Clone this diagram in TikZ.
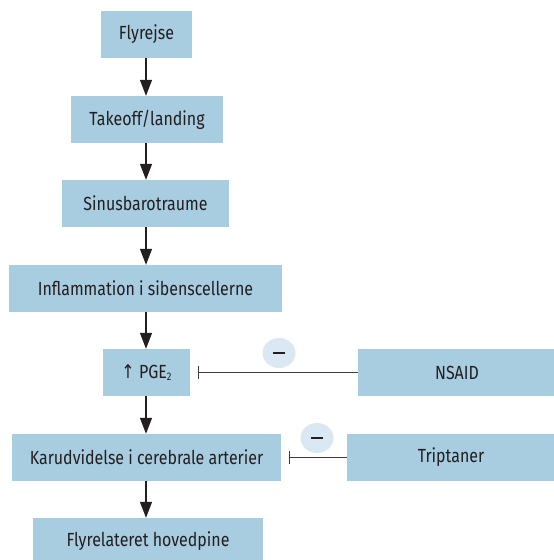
\documentclass[tikz,border=0pt]{standalone}
\usepackage{fontspec}
\setmainfont{Fira Sans}[FakeStretch=0.84]
\newfontfamily\symfont{DejaVu Sans}[FakeStretch=0.84]
\usetikzlibrary{arrows.meta,shapes.geometric}
\definecolor{boxblue}{RGB}{168,204,224}
\definecolor{minusblue}{RGB}{217,232,242}
\definecolor{txt}{RGB}{35,31,32}
\definecolor{inhib}{RGB}{60,60,60}
\tikzset{
  box/.style={fill=boxblue, draw=none, minimum height=47pt, inner sep=0pt, text=txt, font=\fontsize{19}{21}\selectfont},
  flow/.style={draw=txt, line width=1.2pt, -{Triangle[width=12pt,length=16pt]}},
  inhibit/.style={draw=inhib, line width=1pt, -{Bar[width=13pt,line width=1.2pt]}, shorten >=8pt},
  minus/.style={ellipse, fill=minusblue, minimum width=33pt, minimum height=30pt, inner sep=0pt, text=txt}
}
\begin{document}
\begin{tikzpicture}[x=1pt,y=-1pt]
\useasboundingbox (0,0) rectangle (554,560);
\node[box, minimum width=91pt] (f1) at (146.5,34.5) {Flyrejse};
\node[box, minimum width=152pt] (f2) at (147,119.5) {Takeoff/landing};
\node[box, minimum width=167pt] (f3) at (145.5,203.5) {Sinusbarotraume};
\node[box, minimum width=273pt] (f4) at (145.5,288.5) {Inflammation i sibenscellerne};
\node[box, minimum width=87pt] (f5) at (146.5,372.5) {{\symfont ↑} PGE\raisebox{-0.25ex}{\fontsize{11}{11}\selectfont 2}};
\node[box, minimum width=198pt] (nsaid) at (457,372.5) {NSAID};
\node[box, minimum width=269pt] (f6) at (146.5,457.5) {Karudvidelse i cerebrale arterier};
\node[box, minimum width=208pt] (trip) at (451,457.5) {Triptaner};
\node[box, minimum width=230pt] (f7) at (148,541.5) {Flyrelateret hovedpine};
\draw[flow] (f1.south -| 146,0) -- (f2.north -| 146,0);
\draw[flow] (f2.south -| 146,0) -- (f3.north -| 146,0);
\draw[flow] (f3.south -| 146,0) -- (f4.north -| 146,0);
\draw[flow] (f4.south -| 146,0) -- (f5.north -| 146,0);
\draw[flow] (f5.south -| 146,0) -- (f6.north -| 146,0);
\draw[flow] (f6.south -| 146,0) -- (f7.north -| 146,0);
\draw[inhibit] (nsaid.west) -- (f5.east);
\draw[inhibit] (trip.west) -- (f6.east);
\node[minus] (m1) at (279,353) {\rule{12pt}{2pt}};
\node[minus] (m2) at (317,438) {\rule{12pt}{2pt}};
\end{tikzpicture}
\end{document}
